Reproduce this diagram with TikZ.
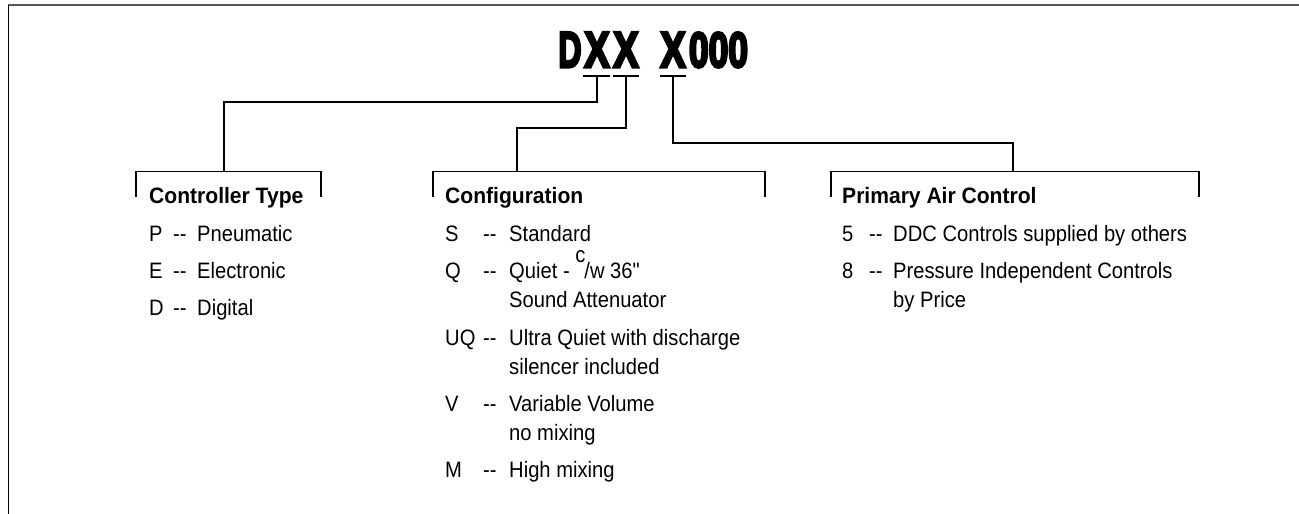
\documentclass[tikz,border=0pt]{standalone}
\usepackage{fontspec}
\usepackage{graphicx}
\setmainfont{Liberation Sans}[FakeStretch=0.905, Ligatures=TeXOff]
\newfontfamily\hdrfont{Liberation Sans}[FakeStretch=0.945]
\newfontfamily\titlefont{Liberation Sans}[FakeBold=6]
\newcommand{\ttlbox}[3]{\resizebox{#1pt}{#2pt}{\titlefont\bfseries #3}}
\begin{document}
\begin{tikzpicture}[x=1pt,y=-1pt,
  txt/.style={anchor=base west, inner sep=0pt, font=\fontsize{22.3}{22.3}\selectfont},
  hdr/.style={anchor=base west, inner sep=0pt, font=\hdrfont\fontsize{22.3}{22.3}\selectfont\bfseries},
  ttl/.style={anchor=base, inner sep=0pt},
  ln/.style={line width=1.2pt, black},
  frameTop/.style={line width=2pt, draw={rgb,255:red,85;green,85;blue,85}},
  frameLeft/.style={line width=1.6pt, black}]
\useasboundingbox (0,0) rectangle (1299,514);
% frame
\draw[frameTop] (8,5) -- (1299,5);
\draw[frameLeft] (8.5,5) -- (8.5,514);
% title
\node[ttl] (tD) at (570,67) {\ttlbox{23}{34.5}{D}};
\node[ttl] (tX1) at (597,67) {\ttlbox{25}{34.5}{X}};
\node[ttl] (tX2) at (626,67) {\ttlbox{25}{34.5}{X}};
\node[ttl] (tX3) at (673,67) {\ttlbox{25}{34.5}{X}};
\node[ttl] (t0) at (718.5,67) {\ttlbox{59}{34.5}{000}};
% underlines
\draw[ln] (583,76) -- (610,76);
\draw[ln] (613,76) -- (639,76);
\draw[ln] (660,76) -- (686,76);
\coordinate (u1) at (597,76);
\coordinate (u2) at (626,76);
\coordinate (u3) at (673,76);
% brackets
\coordinate (b1) at (224,171.5);
\coordinate (b2) at (517,171.5);
\coordinate (b3) at (1013,171.5);
\draw[ln] (136,197) -- (136,171.5) -- (321,171.5) -- (321,197);
\draw[ln] (433,197) -- (433,171.5) -- (765,171.5) -- (765,197);
\draw[ln] (831,197) -- (831,171.5) -- (1199,171.5) -- (1199,197);
% connectors
\draw[ln] (u1) -- (597,102) -- (224,102) -- (b1);
\draw[ln] (u2) -- (626,128) -- (517,128) -- (b2);
\draw[ln] (u3) -- (673,143) -- (1013,143) -- (b3);
% Controller Type
\node[hdr] (h1) at (149,203) {Controller Type};
\node[txt] (c1a) at (149,241) {P};
\node[txt] (c1b) at (173,241) {--};
\node[txt] (c1c) at (197,241) {Pneumatic};
\node[txt] (c2a) at (149,278) {E};
\node[txt] (c2b) at (173,278) {--};
\node[txt] (c2c) at (197,278) {Electronic};
\node[txt] (c3a) at (149,315) {D};
\node[txt] (c3b) at (173,315) {--};
\node[txt] (c3c) at (197,315) {Digital};
% Configuration
\node[hdr] (h2) at (445,203) {Configuration};
\node[txt] (g1a) at (445,241) {S};
\node[txt] (g1b) at (483,241) {--};
\node[txt] (g1c) at (509,241) {Standard};
\node[txt] (g2a) at (445,278) {Q};
\node[txt] (g2b) at (483,278) {--};
\node[txt] (g2c) at (509,278) {Quiet - \raisebox{15.5pt}{c}\kern-1pt/w 36"};
\node[txt] (g2d) at (509,307) {Sound Attenuator};
\node[txt] (g3a) at (445,345) {UQ};
\node[txt] (g3b) at (483,345) {--};
\node[txt] (g3c) at (509,345) {Ultra Quiet with discharge};
\node[txt] (g3d) at (509,374) {silencer included};
\node[txt] (g4a) at (445,411) {V};
\node[txt] (g4b) at (483,411) {--};
\node[txt] (g4c) at (509,411) {Variable Volume};
\node[txt] (g4d) at (509,440) {no mixing};
\node[txt] (g5a) at (445,477) {M};
\node[txt] (g5b) at (483,477) {--};
\node[txt] (g5c) at (509,477) {High mixing};
% Primary Air Control
\node[hdr] (h3) at (842,203) {Primary Air Control};
\node[txt] (p1a) at (842,241) {5};
\node[txt] (p1b) at (869,241) {--};
\node[txt] (p1c) at (893,241) {DDC Controls supplied by others};
\node[txt] (p2a) at (842,278) {8};
\node[txt] (p2b) at (869,278) {--};
\node[txt] (p2c) at (893,278) {Pressure Independent Controls};
\node[txt] (p2d) at (893,307) {by Price};
\end{tikzpicture}
\end{document}
